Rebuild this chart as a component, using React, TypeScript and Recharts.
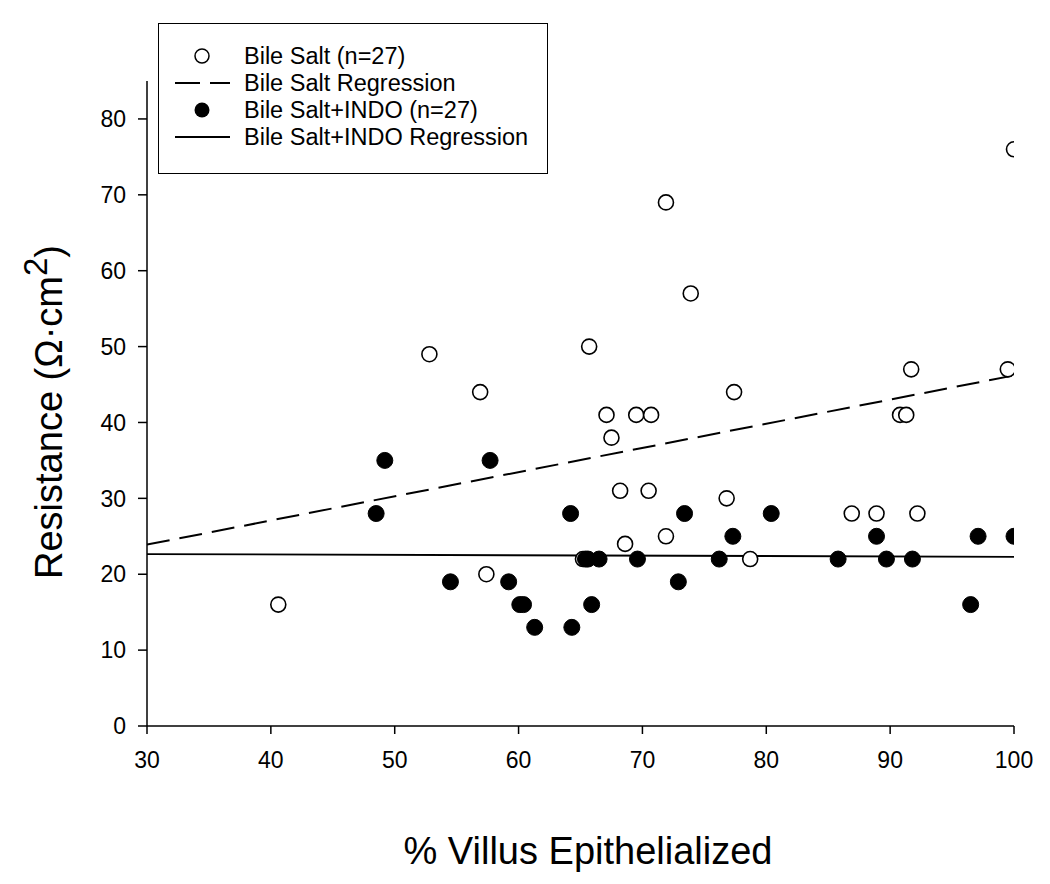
import React from 'react';
import { ScatterChart, Scatter, XAxis, YAxis } from 'recharts';

const bileSaltX = [40.6, 52.8, 56.9, 57.4, 65.7, 71.9, 73.9, 77.4, 67.1, 69.5, 70.7, 67.5, 68.2, 70.5, 76.8, 71.9, 68.6, 65.2, 78.7, 91.7, 99.5, 90.8, 91.3, 86.9, 88.9, 92.2, 100];
const bileSaltY = [16, 49, 44, 20, 50, 69, 57, 44, 41, 41, 41, 38, 31, 31, 30, 25, 24, 22, 22, 47, 47, 41, 41, 28, 28, 28, 76];

const indoX = [49.2, 57.7, 48.5, 54.5, 59.2, 60.1, 60.4, 61.3, 64.2, 73.4, 80.4, 77.3, 65.4, 65.6, 66.5, 69.6, 76.2, 85.8, 72.9, 65.9, 64.3, 88.9, 97.1, 100, 89.7, 91.8, 96.5];
const indoY = [35, 35, 28, 19, 19, 16, 16, 13, 28, 28, 28, 25, 22, 22, 22, 22, 22, 22, 19, 16, 13, 25, 25, 25, 22, 22, 16];

const bileRegX = [30, 100];
const bileRegY = [23.9, 46.2];
const indoRegX = [30, 100];
const indoRegY = [22.65, 22.3];

const xTicks = [30, 40, 50, 60, 70, 80, 90, 100];
const yTicks = [0, 10, 20, 30, 40, 50, 60, 70, 80];

const legendLabels = ['Bile Salt (n=27)', 'Bile Salt Regression', 'Bile Salt+INDO (n=27)', 'Bile Salt+INDO Regression'];

const zip = (xs: number[], ys: number[]) => xs.map((x, i) => ({ x, y: ys[i] }));

const bileData = zip(bileSaltX, bileSaltY);
const indoData = zip(indoX, indoY);
const bileReg = zip(bileRegX, bileRegY);
const indoReg = zip(indoRegX, indoRegY);

const FONT = '"Liberation Sans", Arial, sans-serif';

const OpenDot = (p: any) => (
  <circle cx={p.cx} cy={p.cy} r={7.5} fill="#fff" stroke="#000" strokeWidth={1.6} />
);
const FilledDot = (p: any) => (
  <circle cx={p.cx} cy={p.cy} r={8} fill="#000" stroke="#000" strokeWidth={1} />
);
const NoDot = () => <g />;

const LegendBox = () => {
  const rows = [33, 60, 87, 114];
  return (
    <div style={{ position: 'absolute', left: 158, top: 23, width: 390, height: 151, border: '1.5px solid #000', boxSizing: 'border-box', background: '#fff', fontFamily: FONT }}>
      <svg width={390} height={151} style={{ position: 'absolute', left: -1.5, top: -1.5 }}>
        <circle cx={44} cy={rows[0]} r={7} fill="#fff" stroke="#000" strokeWidth={1.5} />
        <line x1={17} x2={72} y1={rows[1]} y2={rows[1]} stroke="#000" strokeWidth={2} strokeDasharray="25 10" />
        <circle cx={44} cy={rows[2]} r={7.5} fill="#000" />
        <line x1={17} x2={72} y1={rows[3]} y2={rows[3]} stroke="#000" strokeWidth={2} />
        {legendLabels.map((t, i) => (
          <text key={t} x={86} y={rows[i]} dy="0.36em" fontSize={23.5} fontFamily={FONT} fill="#000">{t}</text>
        ))}
      </svg>
    </div>
  );
};

const YTitle = () => {
  const cx = 48;
  const cy = 412;
  return (
    <text transform={`rotate(-90, ${cx}, ${cy})`} x={cx} y={cy} textAnchor="middle" dy="0.36em" fontSize={38} fontFamily={FONT} fill="#000">
      Resistance (Ω·cm<tspan dy="-15" fontSize={33}>2</tspan><tspan dy="15">)</tspan>
    </text>
  );
};

const XTitle = () => (
  <text x={588} y={864} textAnchor="middle" fontSize={38} fontFamily={FONT} fill="#000">% Villus Epithelialized</text>
);

export default function App() {
  return (
    <div style={{ position: 'absolute', left: 0, top: 0, width: 1050, height: 884, background: '#fff' }}>
      <ScatterChart width={1050} height={884} margin={{ top: 81, right: 36, bottom: 0, left: 0 }}>
        <XAxis
          type="number"
          dataKey="x"
          domain={[30, 100]}
          ticks={xTicks}
          allowDataOverflow
          tickSize={8}
          tickMargin={18}
          height={158}
          stroke="#000"
          strokeWidth={1.5}
          tick={{ fill: '#000', fontSize: 23, fontFamily: FONT }}
          tickLine={{ stroke: '#000', strokeWidth: 1.5 }}
          label={<XTitle />}
        />
        <YAxis
          type="number"
          dataKey="y"
          domain={[0, 85]}
          ticks={yTicks}
          allowDataOverflow
          tickSize={9}
          tickMargin={12}
          width={147}
          stroke="#000"
          strokeWidth={1.5}
          tick={{ fill: '#000', fontSize: 23, fontFamily: FONT }}
          tickLine={{ stroke: '#000', strokeWidth: 1.5 }}
          label={<YTitle />}
        />
        <Scatter name="Bile Salt Regression" data={bileReg} shape={NoDot} line={{ stroke: '#000', strokeWidth: 2, strokeDasharray: '23 10' }} isAnimationActive={false} />
        <Scatter name="Bile Salt+INDO Regression" data={indoReg} shape={NoDot} line={{ stroke: '#000', strokeWidth: 1.8 }} isAnimationActive={false} />
        <Scatter name="Bile Salt (n=27)" data={bileData} shape={OpenDot} isAnimationActive={false} />
        <Scatter name="Bile Salt+INDO (n=27)" data={indoData} shape={FilledDot} isAnimationActive={false} />
      </ScatterChart>
      <LegendBox />
    </div>
  );
}
